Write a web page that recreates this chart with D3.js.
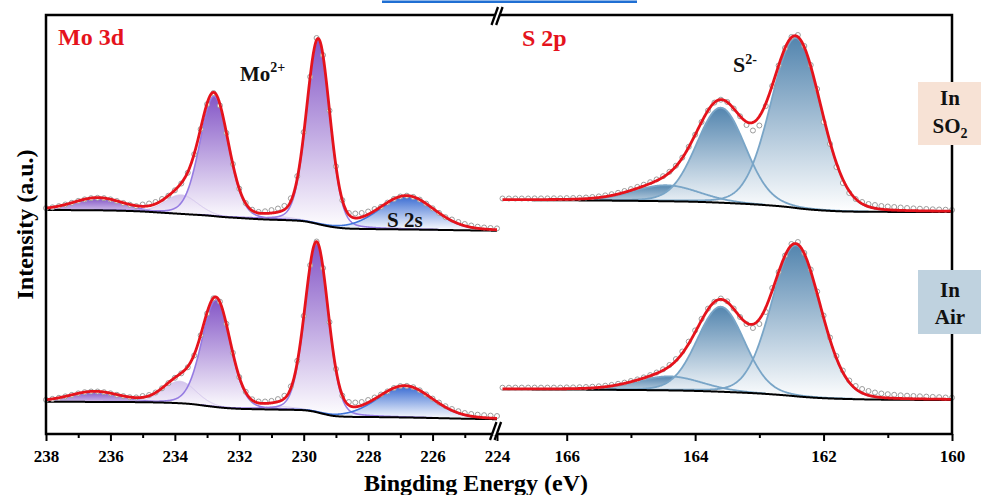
<!DOCTYPE html>
<html>
<head>
<meta charset="utf-8">
<script src="https://cdn.jsdelivr.net/npm/d3@7"></script>
<style>
  html, body { margin: 0; padding: 0; background: #fff; }
  svg { display: block; }
  text { font-family: "Liberation Serif", "Times New Roman", serif; font-weight: bold; }
</style>
</head>
<body>
<svg id="chart" width="981" height="495"></svg>
<script>
// ---------------- measured spectra ----------------
// Mo 3d / S 2s window: 0.2 eV steps from 238 eV down to 224 eV
const moStart = 238, moStep = 0.2;
const moSO2 = [
  225.9, 226.7, 227.9, 229.5, 231.2, 233.1, 234.6, 235.8, 236.2, 235.8,
  234.6, 233.0, 231.0, 229.3, 227.9, 229.5, 230.5, 232.0, 235.0, 238.3,
  243.7, 250.5, 261.2, 279.7, 304.8, 329.8, 341.0, 328.5, 301.0, 270.0,
  245.3, 230.9, 224.3, 222.1, 222.7, 223.9, 225.5, 228.1, 235.7, 257.8,
  301.8, 357.2, 396.0, 378.9, 323.4, 267.7, 233.8, 221.0, 220.5, 221.0,
  222.5, 225.0, 227.2, 231.4, 235.1, 237.5, 238.3, 237.1, 234.4, 230.4,
  225.7, 221.1, 216.8, 214.5, 212.0, 210.0, 208.5, 207.3, 206.5, 206.0, 205.6
];
const moAir = [
  34.2, 35.1, 36.2, 37.6, 39.1, 40.6, 41.8, 42.5, 42.5, 41.8,
  40.7, 39.2, 37.9, 36.8, 36.6, 38.0, 39.0, 41.5, 45.7, 50.9,
  56.2, 60.7, 66.7, 78.5, 98.7, 120.4, 135.7, 132.3, 110.2, 81.2,
  56.9, 42.2, 34.7, 32.5, 32.5, 33.1, 34.9, 38.2, 47.6, 73.2,
  118.0, 168.8, 192.5, 165.9, 111.9, 65.0, 38.3, 32.0, 31.5, 32.0,
  34.0, 36.5, 39.5, 42.6, 46.0, 47.9, 48.1, 46.8, 43.7, 39.6,
  35.4, 31.5, 27.8, 25.0, 22.8, 21.0, 20.0, 19.3, 18.8, 18.4, 18.0
];
// S 2p window: 0.1 eV steps from 167 eV down to 160 eV
const sStart = 167, sStep = 0.1;
const s2pSO2 = [
  235.5, 235.5, 235.5, 235.5, 235.5, 235.6, 235.6, 235.6, 235.7, 235.7,
  235.9, 236.0, 236.2, 236.5, 237.0, 237.6, 238.6, 239.8, 241.2, 243.0,
  244.9, 247.1, 249.3, 251.8, 254.6, 257.8, 262.2, 268.3, 276.4, 287.2,
  299.3, 312.0, 323.5, 331.4, 334.3, 332.0, 325.5, 317.7, 309.0, 303.5,
  308.5, 328.0, 348.0, 368.5, 386.0, 397.0, 399.0, 388.0, 369.0, 345.0,
  312.0, 290.0, 267.0, 251.0, 241.0, 235.0, 232.0, 230.0, 229.0, 228.0,
  227.5, 227.0, 226.5, 226.0, 225.6, 225.3, 225.0, 224.7, 224.5, 224.3, 224.0
];
const s2pAir = [
  46.3, 46.3, 46.4, 46.4, 46.4, 46.4, 46.4, 46.4, 46.4, 46.4,
  46.6, 46.6, 46.8, 47.0, 47.3, 47.7, 48.3, 49.1, 50.2, 51.4,
  53.0, 54.6, 56.6, 58.9, 61.5, 64.7, 69.0, 74.9, 82.5, 92.4,
  103.6, 115.1, 125.4, 132.3, 135.5, 132.7, 125.5, 117.0, 110.0, 106.0,
  110.0, 122.0, 146.0, 162.0, 178.5, 190.0, 192.0, 181.0, 164.5, 142.5,
  118.5, 96.5, 78.0, 63.5, 53.5, 48.0, 45.0, 43.0, 41.5, 40.5,
  39.8, 39.2, 38.7, 38.3, 38.0, 37.7, 37.4, 37.1, 36.8, 36.5, 36.3
];

// ---------------- Shirley backgrounds [eV, intensity] ----------------
const moSO2Bg = [[238,224],[236,223.5],[235,222.5],[234.5,221.5],[234,220.5],[233.5,219.5],[233,218.5],
  [232.5,217],[232,216],[231.5,215],[231,214.3],[230.5,213.8],[230,212.8],[229.7,211],[229.4,208.8],
  [229.1,207],[228.7,205.6],[228,205],[227,204.6],[226,204.2],[225,203.7],[224,203.3]];
const moAirBg = [[238,32.3],[236,32],[235,31.8],[234.5,31.5],[234,31],[233.5,30],[233,28],
  [232.5,26.2],[232,25.2],[231.5,24.8],[231,24.5],[230.5,24.2],[230,23.8],[229.7,22.5],[229.4,20.2],
  [229.1,18.2],[228.7,17.3],[228,17],[227,16.6],[226,16],[225,15.3],[224,14.8]];
const s2pSO2Bg = [[167,234],[166,233.7],[165,233.2],[164.5,232.8],[164,232.2],[163.5,231],[163,229.3],
  [162.6,227.3],[162.3,225],[162,223.5],[161.7,222.6],[161.2,222.2],[160,222]];
const s2pAirBg = [[167,44.7],[166,44.5],[165,44],[164.5,43.7],[164,43.1],[163.5,42],[163,40.5],
  [162.6,38.7],[162.3,37],[162,35.8],[161.5,34.8],[161,34.3],[160,34]];

// ---------------- fitted components: centre (eV), height, FWHM (eV), species ----------------
const moMix = 0.15, sMix = 0.1;   // Lorentzian fraction of the pseudo-Voigt line shape
const moSO2Peaks = [
  { c: 236.4,  h: 12,  w: 1.8,  species: "Mo 3d" },
  { c: 233.8,  h: 19,  w: 1.2,  species: "Mo 3d minor" },
  { c: 232.78, h: 120, w: 1.05, species: "Mo 3d" },
  { c: 230.7,  h: 3,   w: 1.2,  species: "Mo 3d minor" },
  { c: 229.55, h: 184, w: 0.85, species: "Mo 3d" },
  { c: 226.8,  h: 33,  w: 2.0,  species: "S 2s" }
];
const moAirPeaks = [
  { c: 236.5,  h: 10,  w: 1.8,  species: "Mo 3d" },
  { c: 233.85, h: 22,  w: 1.2,  species: "Mo 3d minor" },
  { c: 232.72, h: 107, w: 1.05, species: "Mo 3d" },
  { c: 230.7,  h: 3,   w: 1.2,  species: "Mo 3d minor" },
  { c: 229.6,  h: 169, w: 0.85, species: "Mo 3d" },
  { c: 226.85, h: 31,  w: 2.0,  species: "S 2s" }
];
const s2pSO2Peaks = [
  { c: 164.45, h: 16,  w: 1.2,  species: "S 2p" },
  { c: 163.6,  h: 95,  w: 0.9,  species: "S 2p" },
  { c: 162.43, h: 170, w: 0.92, species: "S 2p" }
];
const s2pAirPeaks = [
  { c: 164.4,  h: 14,  w: 1.2,  species: "S 2p" },
  { c: 163.6,  h: 85,  w: 0.87, species: "S 2p" },
  { c: 162.43, h: 151, w: 0.9,  species: "S 2p" }
];

// ---------------- axis ticks ----------------
const moMajor = [238, 236, 234, 232, 230, 228, 226, 224];
const moMinor = [237, 235, 233, 231, 229, 227, 225];
const sMajor = [166, 164, 162, 160];
const sMinor = [165, 163, 161];

// ---------------- scales ----------------
const xMo = d3.scaleLinear().domain([238, 224]).range([46, 497]);
const xS  = d3.scaleLinear().domain([167, 160]).range([502.5, 952]);
const y   = d3.scaleLinear().domain([0, 419]).range([434, 15]);

const svg = d3.select("#chart");
const defs = svg.append("defs");

const RED = "#e5131c";
const look = {
  "Mo 3d":       { id: "gMo",  top: "#7a48c2", bottom: "#ffffff", edge: "#957be2", ew: 1.6 },
  "Mo 3d minor": { id: "gMoM", top: "#d0bfeb", bottom: "#fbf9fd", edge: "#d4c6ee", ew: 1.0 },
  "S 2s":        { id: "gS2s", top: "#2a60cf", bottom: "#ffffff", edge: "#3f74d9", ew: 1.6 },
  "S 2p":        { id: "gS2p", top: "#457ba8", bottom: "#ffffff", edge: "#79a5c7", ew: 1.8 }
};
Object.values(look).forEach(s => {
  const g = defs.append("linearGradient").attr("id", s.id)
    .attr("x1", 0).attr("y1", 0).attr("x2", 0).attr("y2", 1);
  g.append("stop").attr("offset", "0%").attr("stop-color", s.top);
  g.append("stop").attr("offset", "100%").attr("stop-color", s.bottom);
});

// monotone cubic interpolation through the background anchor points
function monotone(points) {
  const p = points.slice().sort((a, b) => a[0] - b[0]);
  const n = p.length, xs = p.map(d => d[0]), ys = p.map(d => d[1]);
  const dx = [], m = [];
  for (let i = 0; i < n - 1; i++) { dx[i] = xs[i + 1] - xs[i]; m[i] = (ys[i + 1] - ys[i]) / dx[i]; }
  const t = [m[0]];
  for (let i = 1; i < n - 1; i++) t[i] = m[i - 1] * m[i] <= 0 ? 0 : (m[i - 1] + m[i]) / 2;
  t[n - 1] = m[n - 2];
  for (let i = 0; i < n - 1; i++) {
    if (m[i] === 0) { t[i] = 0; t[i + 1] = 0; continue; }
    const a = t[i] / m[i], b = t[i + 1] / m[i], s = a * a + b * b;
    if (s > 9) { const k = 3 / Math.sqrt(s); t[i] = k * a * m[i]; t[i + 1] = k * b * m[i]; }
  }
  return E => {
    const x = Math.max(xs[0], Math.min(xs[n - 1], E));
    let i = Math.min(n - 2, Math.max(0, d3.bisectRight(xs, x) - 1));
    const h = dx[i], u = (x - xs[i]) / h, u2 = u * u, u3 = u2 * u;
    return (2 * u3 - 3 * u2 + 1) * ys[i] + (u3 - 2 * u2 + u) * h * t[i]
         + (-2 * u3 + 3 * u2) * ys[i + 1] + (u3 - u2) * h * t[i + 1];
  };
}

// pseudo-Voigt line shape
function pv(E, pk, mix) {
  const r2 = (E - pk.c) * (E - pk.c) / (pk.w * pk.w);
  return pk.h * ((1 - mix) * Math.exp(-4 * Math.LN2 * r2) + mix / (1 + 4 * r2));
}

const spectra = [
  { x: xMo, hi: 238, lo: 224, start: moStart, step: moStep, counts: moSO2, bg: moSO2Bg, peaks: moSO2Peaks, mix: moMix },
  { x: xMo, hi: 238, lo: 224, start: moStart, step: moStep, counts: moAir, bg: moAirBg, peaks: moAirPeaks, mix: moMix },
  { x: xS,  hi: 167, lo: 160, start: sStart,  step: sStep,  counts: s2pSO2, bg: s2pSO2Bg, peaks: s2pSO2Peaks, mix: sMix },
  { x: xS,  hi: 167, lo: 160, start: sStart,  step: sStep,  counts: s2pAir, bg: s2pAirBg, peaks: s2pAirPeaks, mix: sMix }
];

const plot = svg.append("g");

spectra.forEach(sp => {
  const bgf = monotone(sp.bg);
  const nFine = Math.round((sp.hi - sp.lo) / 0.01);
  const fine = d3.range(0, nFine + 1).map(i => sp.hi - i * 0.01);
  const g = plot.append("g");

  // component fills
  sp.peaks.forEach(pk => {
    const pts = fine.filter(E => Math.abs(E - pk.c) <= 2.6 * pk.w);
    const area = d3.area()
      .x(E => sp.x(E))
      .y0(E => y(bgf(E)))
      .y1(E => y(bgf(E) + pv(E, pk, sp.mix)));
    g.append("path").datum(pts).attr("d", area)
      .attr("fill", `url(#${look[pk.species].id})`).attr("fill-opacity", 0.92);
  });
  // component outlines
  sp.peaks.forEach(pk => {
    const pts = fine.filter(E => pv(E, pk, sp.mix) > 0.35);
    const line = d3.line().x(E => sp.x(E)).y(E => y(bgf(E) + pv(E, pk, sp.mix)));
    g.append("path").datum(pts).attr("d", line)
      .attr("fill", "none").attr("stroke", look[pk.species].edge)
      .attr("stroke-width", look[pk.species].ew);
  });
  // background
  g.append("path").datum(fine)
    .attr("d", d3.line().x(E => sp.x(E)).y(E => y(bgf(E))))
    .attr("fill", "none").attr("stroke", "#000").attr("stroke-width", 2);
  // measured points
  g.selectAll("circle.pt").data(sp.counts).join("circle")
    .attr("class", "pt")
    .attr("cx", (v, i) => sp.x(sp.start - i * sp.step))
    .attr("cy", v => y(v))
    .attr("r", 2.5)
    .attr("fill", "#fff").attr("stroke", "#9c9c9c").attr("stroke-width", 1);
  // envelope of the fit
  g.append("path").datum(fine)
    .attr("d", d3.line().x(E => sp.x(E))
      .y(E => y(bgf(E) + d3.sum(sp.peaks, pk => pv(E, pk, sp.mix)))))
    .attr("fill", "none").attr("stroke", RED).attr("stroke-width", 2.8)
    .attr("stroke-linejoin", "round");
});

// ---------------- frame ----------------
const frame = svg.append("g").attr("stroke", "#000").attr("stroke-width", 2.5).attr("fill", "none");
frame.append("path").attr("d", `M${xMo(238)},${y(419)}V${y(0)}H${xS(160)}V${y(419)}Z`);

// axis breaks
function axisBreak(cx, cy, gapL, gapR) {
  svg.append("rect").attr("x", gapL).attr("y", cy - 4).attr("width", gapR - gapL).attr("height", 8).attr("fill", "#fff");
  [0, 4.6].forEach(dx => {
    svg.append("line")
      .attr("x1", cx - 4 + dx).attr("y1", cy + 9)
      .attr("x2", cx + 2.5 + dx).attr("y2", cy - 9)
      .attr("stroke", "#000").attr("stroke-width", 2.3);
  });
}
axisBreak(494, 431, 493, 497.5);
axisBreak(495.5, 16, 495, 500);

// ---------------- bottom axes ----------------
function bottomAxis(scale, major, minor) {
  const gMin = svg.append("g").attr("transform", `translate(0,${y(0)})`)
    .call(d3.axisBottom(scale).tickValues(minor).tickSize(4).tickFormat(""));
  const gMaj = svg.append("g").attr("transform", `translate(0,${y(0)})`)
    .call(d3.axisBottom(scale).tickValues(major).tickSize(7).tickPadding(8.5).tickFormat(d3.format("d")));
  [gMin, gMaj].forEach(g => {
    g.select(".domain").remove();
    g.attr("font-family", null).attr("font-size", null);
    g.selectAll(".tick line").attr("stroke", "#000").attr("stroke-width", 2);
    g.selectAll(".tick text").attr("fill", "#000").style("font-size", "17px");
  });
}
bottomAxis(xMo, moMajor, moMinor);
bottomAxis(xS, sMajor, sMinor);

// ---------------- titles and labels ----------------
svg.append("text").attr("x", 476).attr("y", 491).attr("text-anchor", "middle")
  .style("font-size", "24px").attr("fill", "#000").text("Bingding Energy (eV)");
svg.append("text").attr("transform", "translate(33,224.5) rotate(-90)").attr("text-anchor", "middle")
  .style("font-size", "24px").attr("fill", "#000").text("Intensity (a.u.)");

svg.append("text").attr("x", 58).attr("y", 45).style("font-size", "24px").attr("fill", RED).text("Mo 3d");
svg.append("text").attr("x", 522).attr("y", 46).style("font-size", "24px").attr("fill", RED).text("S 2p");

const mo2 = svg.append("text").attr("x", 240).attr("y", 80.5).style("font-size", "21px").attr("fill", "#111");
mo2.append("tspan").text("Mo");
mo2.append("tspan").attr("dy", -8.5).style("font-size", "14px").text("2+");

svg.append("text").attr("x", 387).attr("y", 227).style("font-size", "21px").attr("fill", "#111").text("S 2s");

const s2 = svg.append("text").attr("x", 733).attr("y", 72).style("font-size", "22px").attr("fill", "#111");
s2.append("tspan").text("S");
s2.append("tspan").attr("dy", -8.5).style("font-size", "14px").text("2-");

// ---------------- condition tags ----------------
svg.append("rect").attr("x", 918).attr("y", 82).attr("width", 63).attr("height", 63).attr("fill", "#f7e2d5");
svg.append("text").attr("x", 950).attr("y", 105).attr("text-anchor", "middle")
  .style("font-size", "21px").attr("fill", "#111").text("In");
const so2 = svg.append("text").attr("x", 950).attr("y", 133).attr("text-anchor", "middle")
  .style("font-size", "21px").attr("fill", "#111");
so2.append("tspan").text("SO");
so2.append("tspan").attr("dy", 5).style("font-size", "14px").text("2");

svg.append("rect").attr("x", 918).attr("y", 270).attr("width", 63).attr("height", 64).attr("fill", "#bfd2df");
svg.append("text").attr("x", 950).attr("y", 297).attr("text-anchor", "middle")
  .style("font-size", "21px").attr("fill", "#111").text("In");
svg.append("text").attr("x", 950).attr("y", 324).attr("text-anchor", "middle")
  .style("font-size", "21px").attr("fill", "#111").text("Air");

// thin blue rule along the top edge
svg.append("rect").attr("x", 382).attr("y", 0.5).attr("width", 255).attr("height", 2.5).attr("fill", "#1f6fd3");
</script>
</body>
</html>
